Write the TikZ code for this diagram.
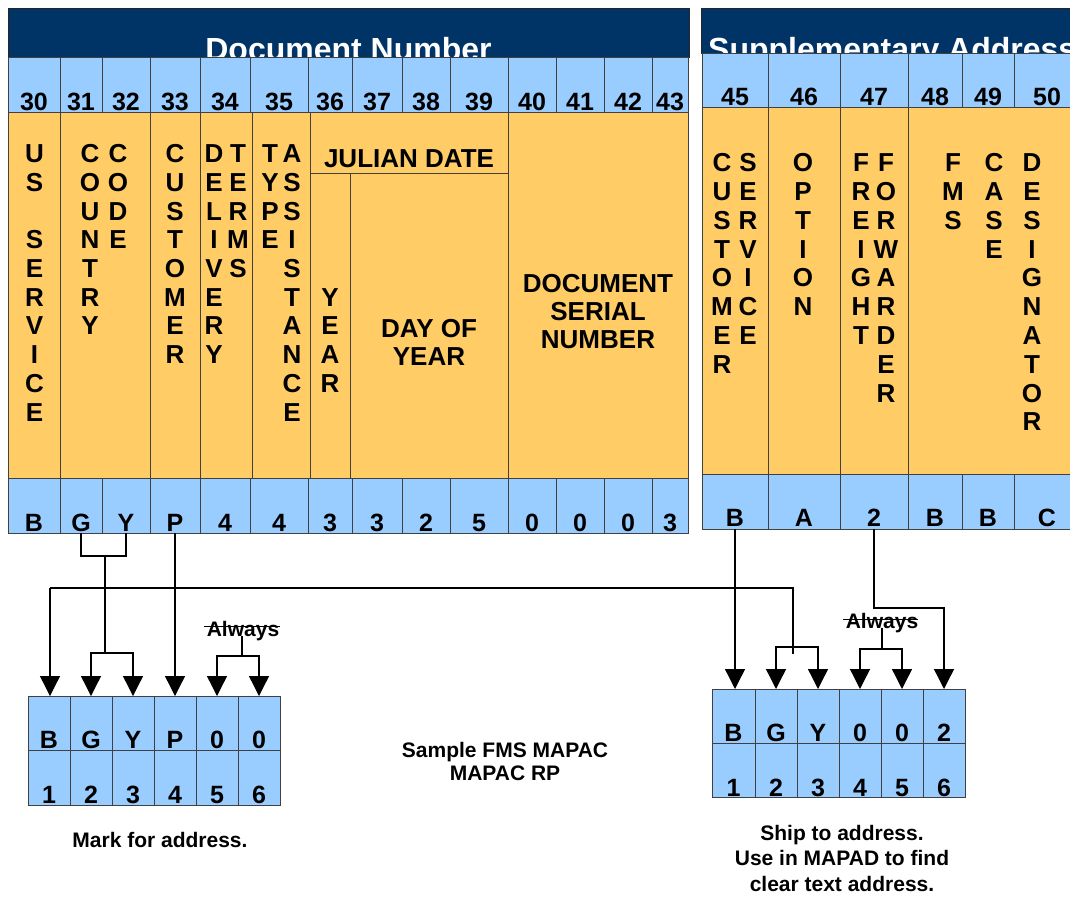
\documentclass[tikz,border=0pt]{standalone}
\usepackage{fontspec}
\setmainfont{Liberation Sans}
\usetikzlibrary{arrows.meta}
\definecolor{navy}{RGB}{0,51,102}
\definecolor{lblue}{RGB}{153,204,255}
\definecolor{lorange}{RGB}{255,204,102}
\newcommand\cell[6]{\node[#6, anchor=north west, minimum width={(#4)-(#2)}, minimum height={(#5)-(#3)}] (#1) at (#2,#3) {};}
\newcommand\vword[5]{\foreach \ch [count=\k from 0] in {#5} {\node[vl] (#1-\k) at (#2,{#3+\k*#4}) {\ch};}}
\tikzset{
 hdr/.style={fill=navy, draw=black!85, line width=0.8pt, inner sep=0pt, outer sep=0pt},
 bcell/.style={fill=lblue, draw=black!75, line width=0.8pt, inner sep=0pt, outer sep=0pt},
 ocell/.style={fill=lorange, draw=black!75, line width=0.8pt, inner sep=0pt, outer sep=0pt},
 val/.style={font=\fontsize{25}{28}\selectfont\bfseries, inner sep=0pt, anchor=base},
 vl/.style={font=\fontsize{26}{28.7}\selectfont\bfseries, inner sep=0pt, anchor=base},
 ttl/.style={font=\fontsize{32}{36}\selectfont\bfseries, text=white, inner sep=0pt},
 note/.style={font=\fontsize{21}{26}\selectfont\bfseries, inner sep=0pt, anchor=base},
 conn/.style={line width=1.3pt, draw=black},
 arr/.style={conn, -{Triangle[width=20pt,length=20pt]}},
}
\begin{document}
\begin{tikzpicture}[x=1pt,y=-1pt]
\useasboundingbox (0,0) rectangle (1070,898);
\clip (0,0) rectangle (1070,898);
% ---------- left block ----------
\cell{hL}{8}{8}{689}{57}{hdr}
\node[ttl, anchor=base] (tL) at (348.5,60) {Document Number};
\foreach \a/\b/\t in {8/60/30,60/102/31,102/150/32,150/200/33,200/250/34,250/308/35,308/352/36,352/402/37,402/450/38,450/508/39,508/556/40,556/604/41,604/652/42,652/688/43} {
 \cell{n\t}{\a}{57}{\b}{112}{bcell}
 \node[val] (nt\t) at ({(\a+\b)/2},110.5) {\t};
}
\cell{oUS}{8}{112}{60}{478}{ocell}
\cell{oCC}{60}{112}{150}{478}{ocell}
\cell{oCU}{150}{112}{200}{478}{ocell}
\cell{oDT}{200}{112}{252}{478}{ocell}
\cell{oTA}{252}{112}{310}{478}{ocell}
\cell{oJD}{310}{112}{508}{173}{ocell}
\cell{oYR}{310}{173}{350}{478}{ocell}
\cell{oDY}{350}{173}{508}{478}{ocell}
\cell{oDS}{508}{112}{688}{478}{ocell}
\foreach \a/\b/\t/\v in {8/60/30/B,60/102/31/G,102/150/32/Y,150/200/33/P,200/250/34/4,250/308/35/4,308/352/36/3,352/402/37/3,402/450/38/2,450/508/39/5,508/556/40/0,556/604/41/0,604/652/42/0,652/688/43/3} {
 \cell{b\t}{\a}{478}{\b}{533}{bcell}
 \node[val] (bt\t) at ({(\a+\b)/2},531) {\v};
}
\vword{us}{34.5}{162.7}{28.7}{U,S}
\vword{sv}{34.5}{248.8}{28.7}{S,E,R,V,I,C,E}
\vword{cn}{90}{162.7}{28.7}{C,O,U,N,T,R,Y}
\vword{cd}{118}{162.7}{28.7}{C,O,D,E}
\vword{cu}{175}{162.7}{28.7}{C,U,S,T,O,M,E,R}
\vword{dl}{214}{162.7}{28.7}{D,E,L,I,V,E,R,Y}
\vword{tm}{238}{162.7}{28.7}{T,E,R,M,S}
\vword{ty}{270}{162.7}{28.7}{T,Y,P,E}
\vword{as}{292}{162.7}{28.7}{A,S,S,I,S,T,A,N,C,E}
\vword{yr}{330}{306.2}{28.7}{Y,E,A,R}
\node[vl] (jd) at (409,167) {JULIAN DATE};
\node[vl] (dy1) at (429,337) {DAY OF};
\node[vl] (dy2) at (429,365) {YEAR};
\node[vl] (ds1) at (598,292) {DOCUMENT};
\node[vl] (ds2) at (598,320) {SERIAL};
\node[vl] (ds3) at (598,348) {NUMBER};
% ---------- right block ----------
\cell{hR}{701}{8}{1080}{53}{hdr}
\node[ttl, anchor=base west] (tR) at (708,60) {Supplementary Address};
\foreach \a/\b/\t in {702/768/45,768/840/46,840/908/47,908/962/48,962/1014/49,1014/1080/50} {
 \cell{r\t}{\a}{53}{\b}{107}{bcell}
 \node[val] (rt\t) at ({(\a+\b)/2},105) {\t};
}
\cell{oCS}{702}{107}{768}{474}{ocell}
\cell{oOP}{768}{107}{840}{474}{ocell}
\cell{oFF}{840}{107}{908}{474}{ocell}
\cell{oFM}{908}{107}{1080}{474}{ocell}
\foreach \a/\b/\t/\v in {702/768/45/B,768/840/46/A,840/908/47/2,908/962/48/B,962/1014/49/B,1014/1080/50/C} {
 \cell{q\t}{\a}{474}{\b}{529}{bcell}
 \node[val] (qt\t) at ({(\a+\b)/2},526.5) {\v};
}
\vword{rc}{722}{171.7}{28.8}{C,U,S,T,O,M,E,R}
\vword{rs}{748}{171.7}{28.8}{S,E,R,V,I,C,E}
\vword{ro}{803}{171.7}{28.8}{O,P,T,I,O,N}
\vword{rf}{861}{171.7}{28.8}{F,R,E,I,G,H,T}
\vword{rw}{886}{171.7}{28.8}{F,O,R,W,A,R,D,E,R}
\vword{rm}{953}{171.7}{28.8}{F,M,S}
\vword{ra}{994}{171.7}{28.8}{C,A,S,E}
\vword{rd}{1032}{171.7}{28.8}{D,E,S,I,G,N,A,T,O,R}
% ---------- bottom boxes ----------
\foreach \i/\a/\b/\v in {1/28/70/B,2/70/112/G,3/112/154/Y,4/154/196/P,5/196/238/0,6/238/280/0} {
 \cell{m\i}{\a}{696}{\b}{750}{bcell}
 \node[val] (mt\i) at ({(\a+\b)/2},748) {\v};
 \cell{mm\i}{\a}{750}{\b}{805}{bcell}
 \node[val] (mn\i) at ({(\a+\b)/2},803) {\i};
}
\foreach \i/\a/\b/\v in {1/712/755/B,2/755/797/G,3/797/839/Y,4/839/881/0,5/881/923/0,6/923/965/2} {
 \cell{s\i}{\a}{689}{\b}{743}{bcell}
 \node[val] (st\i) at ({(\a+\b)/2},741) {\v};
 \cell{ss\i}{\a}{743}{\b}{797}{bcell}
 \node[val] (sn\i) at ({(\a+\b)/2},796) {\i};
}
% ---------- notes ----------
\node[note] (mk) at (160,847) {Mark for address.};
\node[note] (sm1) at (505,757) {Sample FMS MAPAC};
\node[note] (sm2) at (505,780) {MAPAC RP};
\node[note] (sh1) at (842,840) {Ship to address.};
\node[note] (sh2) at (842,865) {Use in MAPAD to find};
\node[note] (sh3) at (842,891) {clear text address.};
\node[note] (al1) at (243,636) {Always};
\node[note] (al2) at (882,628) {Always};
% ---------- connectors ----------
\coordinate (gy) at (105,556);
\coordinate (gyb) at (105,653);
\draw[conn] (b31.south) |- (gy) -| (b32.south);
\draw[conn] (gy) -- (gyb);
\draw[arr] (gyb) -| (m2.north);
\draw[arr] (gyb) -| (m3.north);
\draw[arr] (b33.south) -- (m4.north);
\coordinate (ll) at (50,588);
\coordinate (lr) at (793,588);
\coordinate (lrb) at (793,654);
\coordinate (sb) at (793,647);
\draw[conn] (ll) -- (lr) -- (lrb);
\draw[arr] (ll) -- (ll |- m1.north);
\draw[arr] (sb) -| (s2.north);
\draw[arr] (sb) -| (s3.north);
\coordinate (a1l) at (204,626);
\coordinate (a1r) at (280,626);
\coordinate (a1v) at (242,636);
\coordinate (a1b) at (242,656);
\draw[conn, line width=1pt] (a1l) -- (a1r);
\draw[conn] (a1v) -- (a1b);
\draw[arr] (a1b) -| (m5.north);
\draw[arr] (a1b) -| (m6.north);
\coordinate (a2l) at (843,619);
\coordinate (a2r) at (918,619);
\coordinate (a2v) at (882,628);
\coordinate (a2b) at (882,649);
\draw[conn, line width=1pt] (a2l) -- (a2r);
\draw[conn] (a2v) -- (a2b);
\draw[arr] (a2b) -| (s4.north);
\draw[arr] (a2b) -| (s5.north);
\draw[arr] (q45.south) -- (q45.south |- s1.north);
\coordinate (t2) at (944,608);
\draw[arr] (q47.south) |- (t2) -- (s6.north);
\end{tikzpicture}
\end{document}
